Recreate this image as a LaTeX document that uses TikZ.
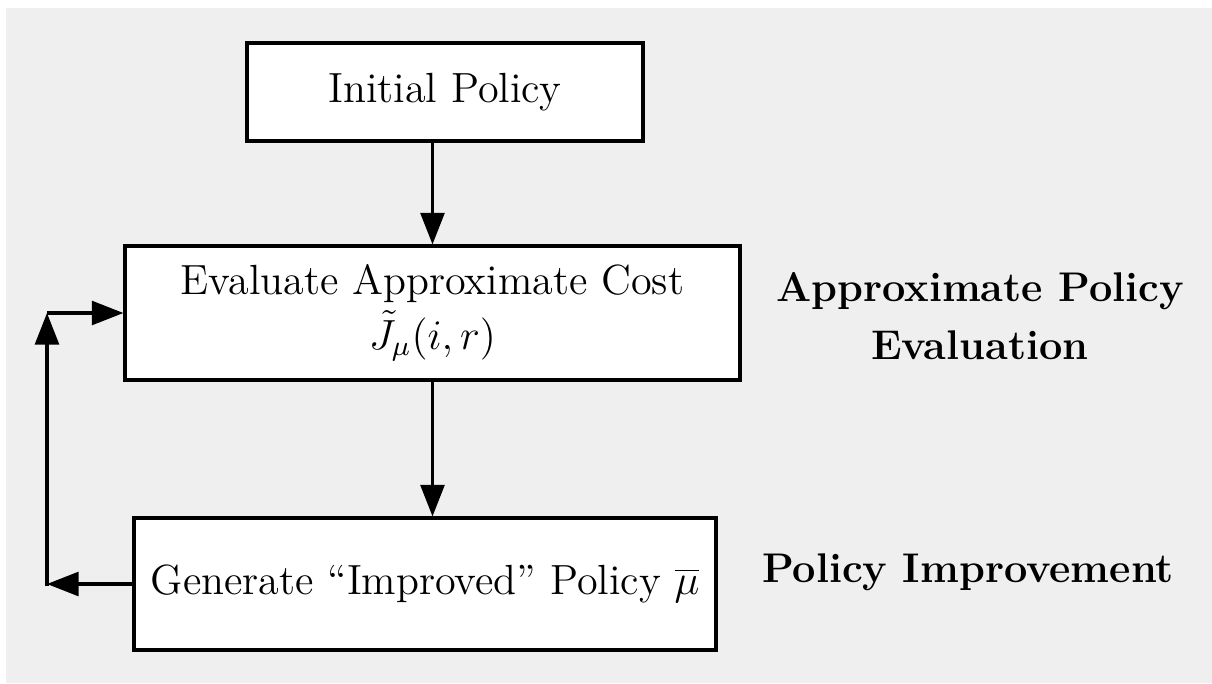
\documentclass[tikz,border=0pt]{standalone}
\usepackage{amssymb}
\usepackage{amsmath}
\usepackage{tikz}
\usetikzlibrary{arrows.meta}
\definecolor{bggray}{HTML}{EFEFEF}

\begin{document}
\begin{tikzpicture} [line width=0.9pt,
  box/.style={draw=black,fill=white,align=center,font=\fontsize{12}{15.5}\selectfont},
  arr/.style={-{Triangle[length=9pt,width=6.8pt]}},
  side/.style={align=center,font=\fontsize{11.8}{16.5}\selectfont\bfseries}]
 \useasboundingbox (0,0) rectangle (12.12,6.83);
 \fill[bggray] (0.06,0) rectangle (12.12,6.75);
 \node[box,minimum width=3.96cm,minimum height=0.98cm] (init) at (4.45,5.91) {Initial Policy};
  \node[box,minimum width=6.15cm,minimum height=1.34cm] (eval) at (4.325,3.70) {Evaluate Approximate Cost\\ $\tilde{J}_\mu(i,r)$};
   \node[box,minimum width=5.82cm,minimum height=1.32cm] (gen) at (4.25,0.99) {Generate ``Improved'' Policy $\overline{\mu}$};
 \node[side] (evallab) at (9.80,3.67) {Approximate Policy\\ Evaluation};
  \node[side] (genlab) at (9.68,1.11) {Policy Improvement};
 \coordinate (lb) at (0.47,0.97);
  \coordinate (lt) at (0.47,3.70);
 \draw[arr] (init.south -| eval) -- (eval.north);
  \draw[arr] (eval.south) -- (eval.south |- gen.north);
   \draw[arr] (gen.west) -- (gen.west -| lb);
    \draw[arr] (lb) -- (lt);
     \draw[arr] (lt) -- (eval.west);
    \end{tikzpicture}
\end{document}
